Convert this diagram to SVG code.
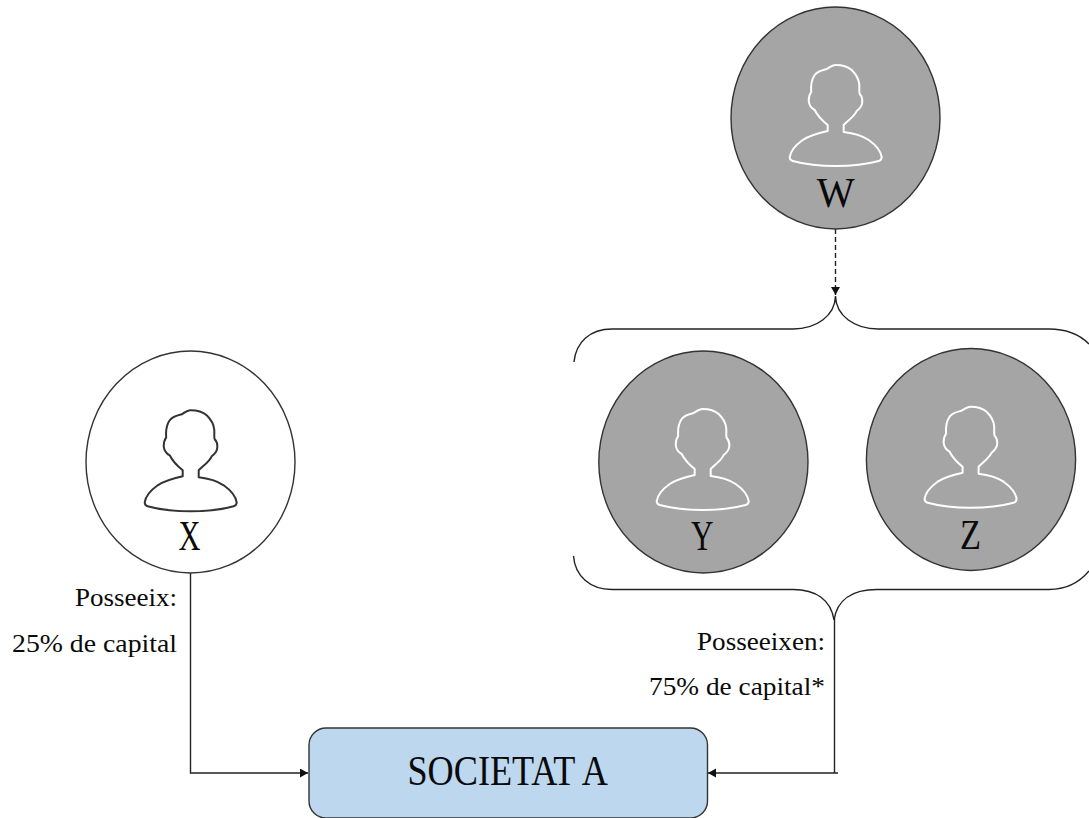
<svg xmlns="http://www.w3.org/2000/svg" width="1089" height="818" viewBox="0 0 1089 818">
<style>
text{font-family:"Liberation Serif","DejaVu Serif",serif;fill:#0a0a0a}
.big{font-size:42px}
.lab{font-size:25px}
.gray{fill:#A5A5A5;stroke:#333;stroke-width:1.4}
.white{fill:#fff;stroke:#333;stroke-width:1.4}
.wire{fill:none;stroke:#222;stroke-width:1.4}
.ic{fill:none;stroke-width:2;stroke-linejoin:round}
</style>
<defs>
<marker id="ah" markerUnits="userSpaceOnUse" markerWidth="10" markerHeight="10" refX="8" refY="4.5" orient="auto"><path d="M0,0L8,4.5L0,9Z" fill="#111"/></marker>
<path id="person" d="M0,0C7,0 12,1.500 16,5C20,9 23,13 23.500,19C24,23 23,26 24,29C26,31 27,34 26.500,38C26,42 23.500,44 21,46C19,51 13,55 8,60L8,67C17,68 27,71 33,75C40,80 45,86 46,92C46,94 45,95.500 43,96C30,99.500 16,101 0,101C-16,101 -30,99.500 -43,96C-45,95.500 -46,94 -46,92C-45,86 -40,80 -33,75C-27,71 -17,68 -8,66L-8,60C-13,56 -18,51 -21,45C-25,43 -26.500,40 -27,36C-27,32 -26,29 -24.500,27C-25,21 -24.500,15 -21,10C-18,6 -13,5 -9,4C-6,2 -3,0 0,0Z"/>
</defs>
<g id="connectors">
<path class="wire" d="M190.500,573V773H308" marker-end="url(#ah)"/>
<path class="wire" d="M834.500,618V773M838,773H708" marker-end="url(#ah)"/>
<path class="wire" d="M835.500,229V295" stroke-dasharray="5 3" marker-end="url(#ah)"/>
</g>
<g id="brace-top"><path class="wire" d="M574,362C576,342 590,329 612,329H793C816,329 835,316 835.500,296C836,316 855,329 878,329H1049C1066,329 1080,335 1089,344"/></g>
<g id="brace-bottom"><path class="wire" d="M573.500,556C575,576 590,589.500 612,589.500H793C816,589.500 831,600 834,620C837,600 852,589.500 877,589.500H1049C1065,589.500 1079,583 1089,571"/></g>
<g id="node-w"><ellipse class="gray" cx="835.500" cy="118" rx="104.500" ry="111"/><use href="#person" x="835.700" y="65" class="ic" stroke="#fff"/><text class="big" x="816.700" y="207" textLength="38" lengthAdjust="spacingAndGlyphs">W</text></g>
<g id="node-x"><ellipse class="white" cx="190.500" cy="462" rx="104.500" ry="111"/><use href="#person" x="190.700" y="410.300" class="ic" stroke="#333"/><text class="big" x="178.500" y="550" textLength="22" lengthAdjust="spacingAndGlyphs">X</text></g>
<g id="node-y"><ellipse class="gray" cx="703.400" cy="462" rx="104.600" ry="111"/><use href="#person" x="702.700" y="409" class="ic" stroke="#fff"/><text class="big" x="691" y="549.500" textLength="22.500" lengthAdjust="spacingAndGlyphs">Y</text></g>
<g id="node-z"><ellipse class="gray" cx="971" cy="459.500" rx="104.600" ry="111"/><use href="#person" x="970.600" y="406.700" class="ic" stroke="#fff"/><text class="big" x="960" y="549" textLength="21" lengthAdjust="spacingAndGlyphs">Z</text></g>
<g id="node-societat"><rect x="309" y="728" width="398.500" height="90" rx="17" fill="#BDD7EE" stroke="#333" stroke-width="1.4"/><text x="407.500" y="785" font-size="42" textLength="200.500" lengthAdjust="spacingAndGlyphs">SOCIETAT A</text></g>
<g id="labels">
<text class="lab" x="75" y="606" textLength="102" lengthAdjust="spacingAndGlyphs">Posseeix:</text>
<text class="lab" x="12" y="652" textLength="165" lengthAdjust="spacingAndGlyphs">25% de capital</text>
<text class="lab" x="697" y="650" textLength="128" lengthAdjust="spacingAndGlyphs">Posseeixen:</text>
<text class="lab" x="649" y="695" textLength="176" lengthAdjust="spacingAndGlyphs">75% de capital*</text>
</g>
</svg>
